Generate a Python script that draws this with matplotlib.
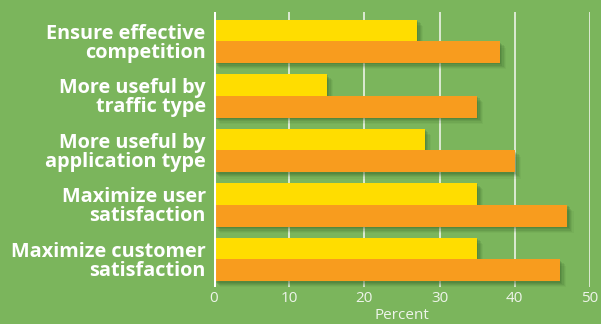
import matplotlib
matplotlib.use("Agg")
import matplotlib.pyplot as plt
import matplotlib.patheffects as pe
import numpy as np

categories = ["Ensure effective\ncompetition", "More useful by\ntraffic type",
              "More useful by\napplication type", "Maximize user\nsatisfaction",
              "Maximize customer\nsatisfaction"]
series_yellow = [27, 15, 28, 35, 35]
series_orange = [38, 35, 40, 47, 46]
xticks = [0, 10, 20, 30, 40, 50]

BG = "#7bb55c"
YEL = "#ffdd00"
ORA = "#f89c1e"
GRID = "#e4eedc"

fig = plt.figure(figsize=(6.01, 3.24), dpi=100, facecolor=BG)
ax = fig.add_axes([214/601, 1-287/324, (590-214)/601, (287-12)/324])
ax.set_facecolor(BG)

y = np.arange(len(categories))
h = 0.4
shadow = []
for k, a in [(1, 0.18), (2, 0.15), (3, 0.12), (4, 0.09), (5, 0.06)]:
    shadow.append(pe.SimplePatchShadow(offset=(k*0.9, -k*0.9), shadow_rgbFace="#2e5a22", alpha=a))
shadow.append(pe.Normal())
b1 = ax.barh(y - h/2, series_yellow, height=h, color=YEL, zorder=3)
b2 = ax.barh(y + h/2, series_orange, height=h, color=ORA, zorder=3)
for b in list(b1) + list(b2):
    b.set_path_effects(shadow)

ax.set_xlim(0, 50)
ax.set_ylim(4.505, -0.54)
ax.set_xticks(xticks)
ax.set_xticklabels([str(t) for t in xticks], family="Open Sans", fontsize=11, color="#eef4ea")
ax.set_yticks(y)
ax.set_yticklabels(categories, family="Open Sans", fontweight="bold", fontsize=14.3, color="white",
                   linespacing=0.93)
ax.tick_params(axis="both", length=0)
ax.tick_params(axis="y", pad=6)
ax.tick_params(axis="x", pad=3)
for s in ax.spines.values():
    s.set_visible(False)
for t in xticks[1:]:
    ax.axvline(t, color=GRID, lw=1.3, zorder=1)
ax.axvline(0, color="white", lw=2.2, zorder=4)
ax.set_xlabel("Percent", family="Open Sans", fontsize=11, color="#eef4ea", labelpad=1.5)

fig.savefig("out.png", dpi=100, facecolor=BG)
